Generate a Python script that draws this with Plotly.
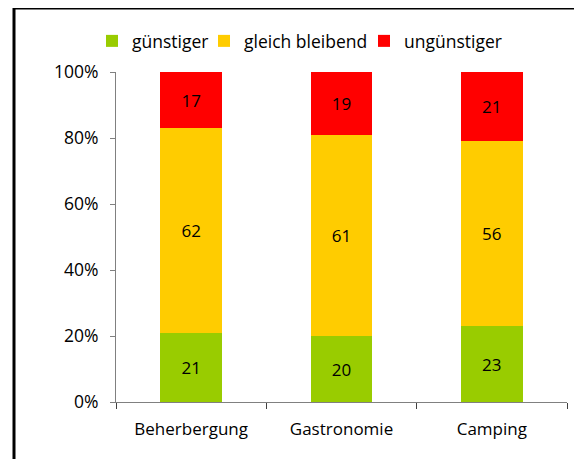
import plotly.graph_objects as go

categories = ['Beherbergung', 'Gastronomie', 'Camping']
guenstiger = [21, 20, 23]
gleich_bleibend = [62, 61, 56]
unguenstiger = [17, 19, 21]

series = [
    ('günstiger', guenstiger, '#99CC00', 67),
    ('gleich bleibend', gleich_bleibend, '#FFCC00', 115),
    ('ungünstiger', unguenstiger, '#FF0000', None),
]

font_family = 'Open Sans, Liberation Sans, sans-serif'

fig = go.Figure()
for name, values, color, lw in series:
    fig.add_trace(go.Bar(
        x=categories, y=values, name=name,
        marker=dict(color=color, line=dict(width=0)),
        text=[str(v) for v in values],
        textposition='inside', insidetextanchor='middle',
        textfont=dict(size=17, color='#000000', family=font_family),
        legendwidth=lw,
        hoverinfo='skip',
    ))

# page has an 8px body margin, so figure coords = page coords - 8
ml, mt, pw, ph = 108, 64, 451, 330

fig.update_layout(
    width=582, height=459,
    barmode='stack', bargap=0.59,
    margin=dict(l=ml, r=582 - ml - pw, t=mt, b=459 - mt - ph),
    paper_bgcolor='white', plot_bgcolor='white',
    font=dict(family=font_family, size=17, color='#000000'),
    showlegend=True,
    legend=dict(
        orientation='h', x=(84 - ml) / pw, xanchor='left',
        y=1 + (mt - 33) / ph, yanchor='middle',
        font=dict(size=17.5), itemwidth=30, traceorder='normal',
        bgcolor='rgba(0,0,0,0)',
    ),
    uniformtext=dict(mode='show', minsize=10),
    shapes=[
        # frame: only the left and top edges show in the picture
        dict(type='line', xref='paper', yref='paper',
             x0=(6 - ml) / pw, x1=(600 - ml) / pw,
             y0=1 + mt / ph, y1=1 + mt / ph,
             line=dict(color='black', width=3)),
        dict(type='line', xref='paper', yref='paper',
             x0=(6 - ml) / pw, x1=(6 - ml) / pw,
             y0=1 + mt / ph, y1=-0.5,
             line=dict(color='black', width=3)),
    ],
)

fig.update_xaxes(
    showline=True, linecolor='#808080', linewidth=1,
    ticks='outside', tickson='boundaries', ticklen=6, tickcolor='#404040',
    ticklabelstandoff=12, showgrid=False, tickfont=dict(size=17),
)
fig.update_yaxes(
    range=[0, 100], tickvals=[0, 20, 40, 60, 80, 100],
    ticktext=['0%', '20%', '40%', '60%', '80%', '100%'],
    showline=True, linecolor='#808080', linewidth=1,
    ticks='outside', ticklen=5, tickcolor='#808080',
    ticklabelstandoff=8, showgrid=False, zeroline=False,
    tickfont=dict(size=17.5),
)

fig.write_html('out.html')
